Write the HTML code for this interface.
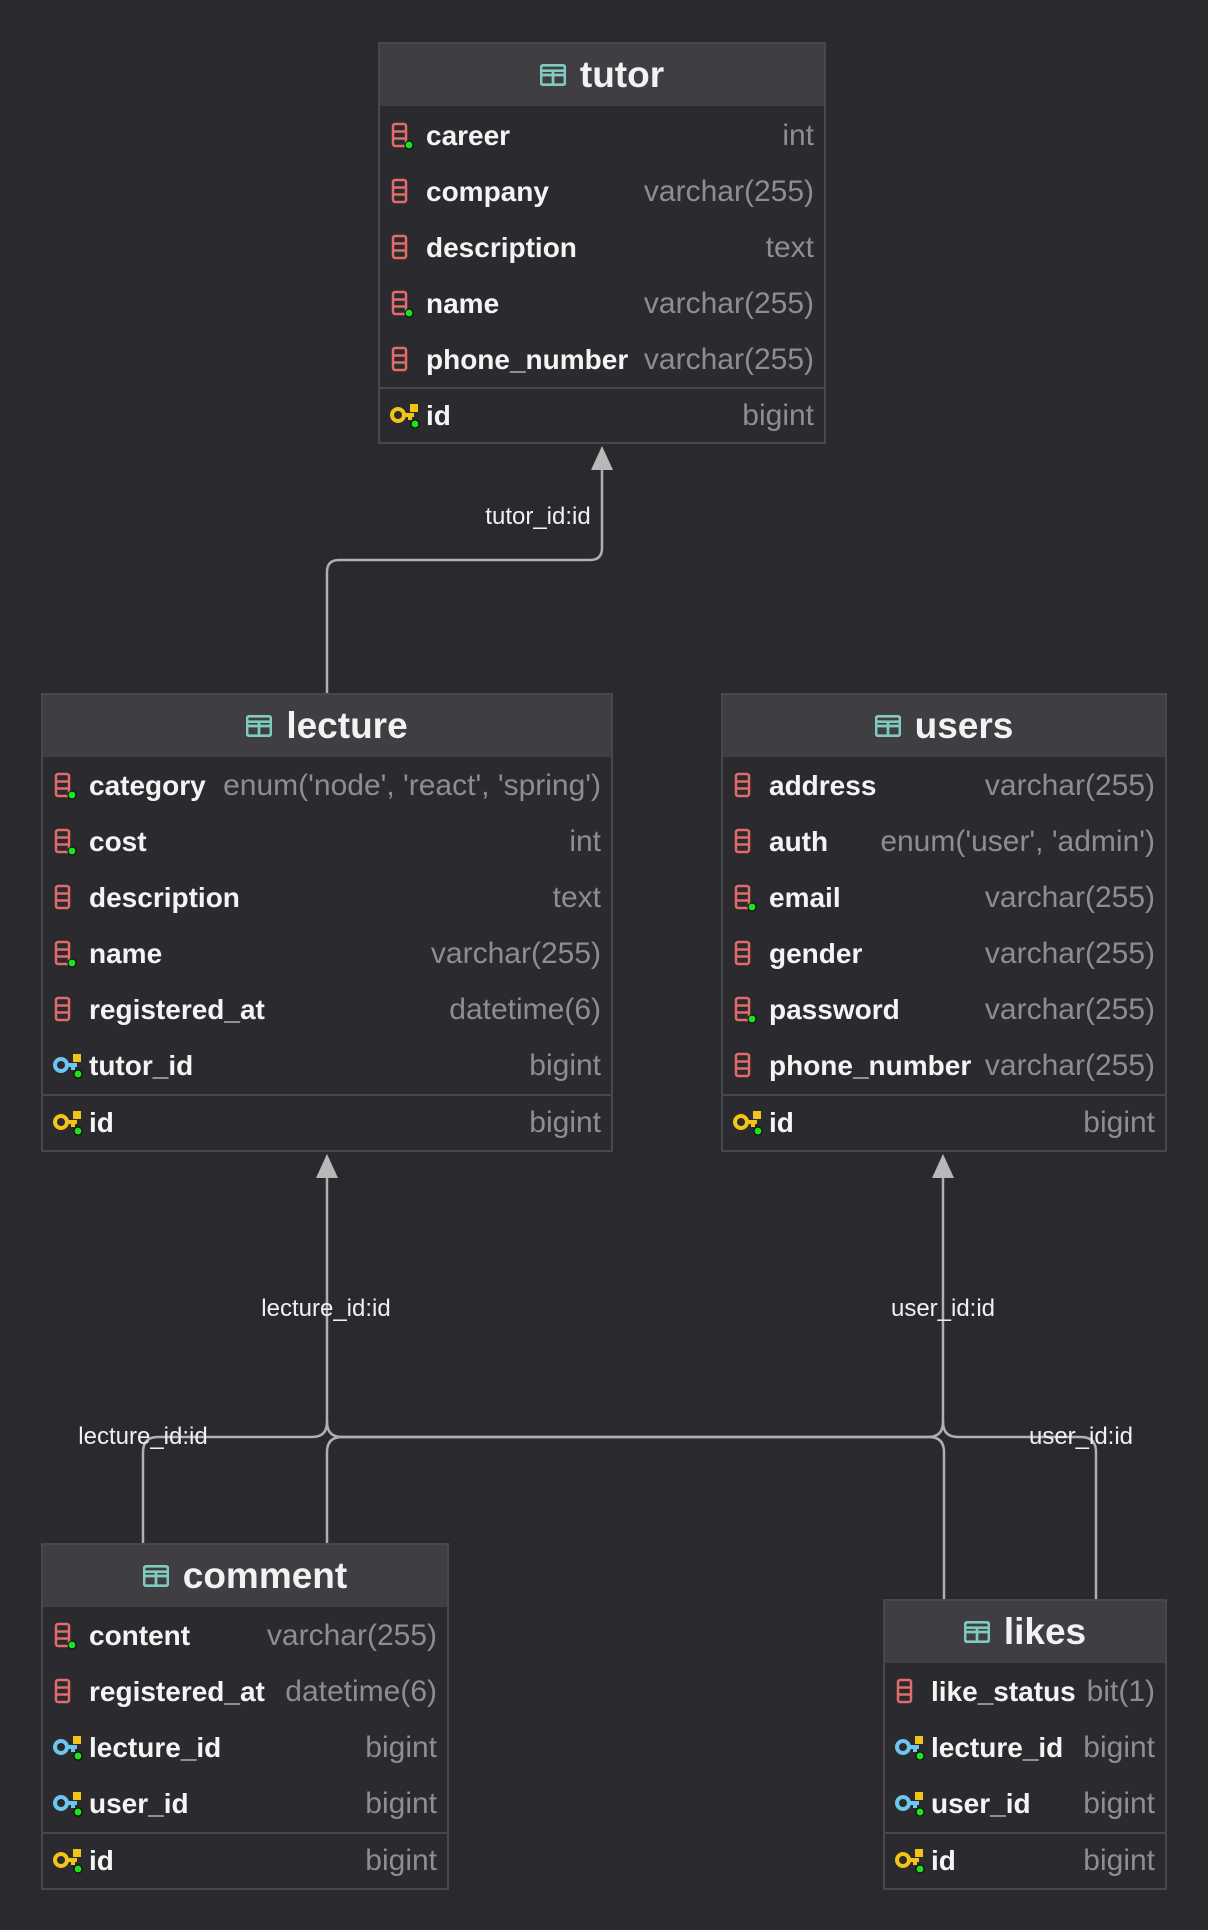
<!DOCTYPE html>
<html><head><meta charset="utf-8"><style>
*{margin:0;padding:0;box-sizing:border-box}
body{width:1208px;height:1930px;background:#2b292d;position:relative;overflow:hidden;font-family:"Liberation Sans",sans-serif}
.box{position:absolute;background:#2b2a2e;border:2px solid #48474b}
.hd{position:absolute;left:0;right:0;top:0;background:#403e42;color:#f2f2f2;font-weight:bold;font-size:37px;display:flex;align-items:center;justify-content:center;gap:14px}
.r{position:absolute;left:0;right:0;height:56px;line-height:56px}
.r .n{position:absolute;left:46px;color:#f4f4f4;font-weight:bold;font-size:28px}
.r .t{position:absolute;right:10px;color:#8e8d90;font-size:30px}
.r svg{position:absolute;left:10px;top:14px}
.sep{position:absolute;left:0;right:0;height:2px;background:#48474b}
.lb{position:absolute;color:#f0f0f0;font-size:24px;transform:translate(-50%,-50%);white-space:nowrap}
</style></head><body>
<svg width="0" height="0" style="position:absolute">
<defs>
<symbol id="tb" viewBox="0 0 24 20"><rect x="1" y="1" width="22" height="18" rx="2" fill="none" stroke="#7fcbc0" stroke-width="2.5"/><path d="M1 10H23M12 6V19M1 6H23" stroke="#7fcbc0" stroke-width="2.5"/></symbol>
<symbol id="col" viewBox="0 0 30 28"><rect x="3" y="2" width="13" height="22" rx="2" fill="none" stroke="#e06c6c" stroke-width="2.5"/><path d="M3 9.5H16M3 16.5H16" stroke="#e06c6c" stroke-width="2.5"/></symbol>
<symbol id="coln" viewBox="0 0 30 28"><rect x="3" y="2" width="13" height="22" rx="2" fill="none" stroke="#e06c6c" stroke-width="2.5"/><path d="M3 9.5H16M3 16.5H16" stroke="#e06c6c" stroke-width="2.5"/><circle cx="19" cy="23" r="4" fill="#1ee01e" stroke="#000" stroke-width="1"/></symbol>
<symbol id="pk" viewBox="0 0 30 28"><circle cx="8" cy="13" r="6" fill="none" stroke="#f2c417" stroke-width="4"/><path d="M13 13H24M20 13V18" stroke="#f2c417" stroke-width="4"/><rect x="20" y="2" width="8" height="8" fill="#f2c417"/><circle cx="25" cy="22" r="4" fill="#1ee01e" stroke="#000" stroke-width="1"/></symbol>
<symbol id="fk" viewBox="0 0 30 28"><circle cx="8" cy="13" r="6" fill="none" stroke="#6cc6ee" stroke-width="4"/><path d="M13 13H24M20 13V18" stroke="#6cc6ee" stroke-width="4"/><rect x="20" y="2" width="8" height="8" fill="#f2c417"/><circle cx="25" cy="22" r="4" fill="#1ee01e" stroke="#000" stroke-width="1"/></symbol>
</defs></svg>

<svg style="position:absolute;left:0;top:0" width="1208" height="1930">
<g fill="none" stroke="#b0b0b0" stroke-width="2.5">
<path d="M327 693V572Q327 560 339 560H590Q602 560 602 548V466"/>
<path d="M327 1176V1422"/>
<path d="M943 1176V1422"/>
<path d="M143 1543V1452Q143 1437 158 1437H312Q327 1437 327 1422"/>
<path d="M327 1543V1452Q327 1437 342 1437H928Q943 1437 943 1422"/>
<path d="M944 1600V1452Q944 1437 929 1437H342Q327 1437 327 1422"/>
<path d="M1096 1600V1452Q1096 1437 1081 1437H958Q943 1437 943 1422"/>
</g>
<g fill="#b8b8b8">
<polygon points="602,446 591,470 613,470"/>
<polygon points="327,1154 316,1178 338,1178"/>
<polygon points="943,1154 932,1178 954,1178"/>
</g>
</svg>
<div class="lb" style="left:538px;top:517px">tutor_id:id</div>
<div class="lb" style="left:326px;top:1309px">lecture_id:id</div>
<div class="lb" style="left:943px;top:1309px">user_id:id</div>
<div class="lb" style="left:143px;top:1437px">lecture_id:id</div>
<div class="lb" style="left:1081px;top:1437px">user_id:id</div>

<!-- tutor -->
<div class="box" style="left:378px;top:42px;width:448px;height:402px">
<div class="hd" style="height:62px"><svg width="26" height="22"><use href="#tb"/></svg>tutor</div>
<div class="r" style="top:64px"><svg width="30" height="28"><use href="#coln"/></svg><span class="n">career</span><span class="t">int</span></div>
<div class="r" style="top:120px"><svg width="30" height="28"><use href="#col"/></svg><span class="n">company</span><span class="t">varchar(255)</span></div>
<div class="r" style="top:176px"><svg width="30" height="28"><use href="#col"/></svg><span class="n">description</span><span class="t">text</span></div>
<div class="r" style="top:232px"><svg width="30" height="28"><use href="#coln"/></svg><span class="n">name</span><span class="t">varchar(255)</span></div>
<div class="r" style="top:288px"><svg width="30" height="28"><use href="#col"/></svg><span class="n">phone_number</span><span class="t">varchar(255)</span></div>
<div class="sep" style="top:343px"></div>
<div class="r" style="top:344px"><svg width="30" height="28"><use href="#pk"/></svg><span class="n">id</span><span class="t">bigint</span></div>
</div>

<!-- lecture -->
<div class="box" style="left:41px;top:693px;width:572px;height:459px">
<div class="hd" style="height:62px"><svg width="26" height="22"><use href="#tb"/></svg>lecture</div>
<div class="r" style="top:63px"><svg width="30" height="28"><use href="#coln"/></svg><span class="n">category</span><span class="t">enum('node', 'react', 'spring')</span></div>
<div class="r" style="top:119px"><svg width="30" height="28"><use href="#coln"/></svg><span class="n">cost</span><span class="t">int</span></div>
<div class="r" style="top:175px"><svg width="30" height="28"><use href="#col"/></svg><span class="n">description</span><span class="t">text</span></div>
<div class="r" style="top:231px"><svg width="30" height="28"><use href="#coln"/></svg><span class="n">name</span><span class="t">varchar(255)</span></div>
<div class="r" style="top:287px"><svg width="30" height="28"><use href="#col"/></svg><span class="n">registered_at</span><span class="t">datetime(6)</span></div>
<div class="r" style="top:343px"><svg width="30" height="28"><use href="#fk"/></svg><span class="n">tutor_id</span><span class="t">bigint</span></div>
<div class="sep" style="top:399px"></div>
<div class="r" style="top:400px"><svg width="30" height="28"><use href="#pk"/></svg><span class="n">id</span><span class="t">bigint</span></div>
</div>

<!-- users -->
<div class="box" style="left:721px;top:693px;width:446px;height:459px">
<div class="hd" style="height:62px"><svg width="26" height="22"><use href="#tb"/></svg>users</div>
<div class="r" style="top:63px"><svg width="30" height="28"><use href="#col"/></svg><span class="n">address</span><span class="t">varchar(255)</span></div>
<div class="r" style="top:119px"><svg width="30" height="28"><use href="#col"/></svg><span class="n">auth</span><span class="t">enum('user', 'admin')</span></div>
<div class="r" style="top:175px"><svg width="30" height="28"><use href="#coln"/></svg><span class="n">email</span><span class="t">varchar(255)</span></div>
<div class="r" style="top:231px"><svg width="30" height="28"><use href="#col"/></svg><span class="n">gender</span><span class="t">varchar(255)</span></div>
<div class="r" style="top:287px"><svg width="30" height="28"><use href="#coln"/></svg><span class="n">password</span><span class="t">varchar(255)</span></div>
<div class="r" style="top:343px"><svg width="30" height="28"><use href="#col"/></svg><span class="n">phone_number</span><span class="t">varchar(255)</span></div>
<div class="sep" style="top:399px"></div>
<div class="r" style="top:400px"><svg width="30" height="28"><use href="#pk"/></svg><span class="n">id</span><span class="t">bigint</span></div>
</div>

<!-- comment -->
<div class="box" style="left:41px;top:1543px;width:408px;height:347px">
<div class="hd" style="height:62px"><svg width="26" height="22"><use href="#tb"/></svg>comment</div>
<div class="r" style="top:63px"><svg width="30" height="28"><use href="#coln"/></svg><span class="n">content</span><span class="t">varchar(255)</span></div>
<div class="r" style="top:119px"><svg width="30" height="28"><use href="#col"/></svg><span class="n">registered_at</span><span class="t">datetime(6)</span></div>
<div class="r" style="top:175px"><svg width="30" height="28"><use href="#fk"/></svg><span class="n">lecture_id</span><span class="t">bigint</span></div>
<div class="r" style="top:231px"><svg width="30" height="28"><use href="#fk"/></svg><span class="n">user_id</span><span class="t">bigint</span></div>
<div class="sep" style="top:287px"></div>
<div class="r" style="top:288px"><svg width="30" height="28"><use href="#pk"/></svg><span class="n">id</span><span class="t">bigint</span></div>
</div>

<!-- likes -->
<div class="box" style="left:883px;top:1599px;width:284px;height:291px">
<div class="hd" style="height:62px"><svg width="26" height="22"><use href="#tb"/></svg>likes</div>
<div class="r" style="top:63px"><svg width="30" height="28"><use href="#col"/></svg><span class="n">like_status</span><span class="t">bit(1)</span></div>
<div class="r" style="top:119px"><svg width="30" height="28"><use href="#fk"/></svg><span class="n">lecture_id</span><span class="t">bigint</span></div>
<div class="r" style="top:175px"><svg width="30" height="28"><use href="#fk"/></svg><span class="n">user_id</span><span class="t">bigint</span></div>
<div class="sep" style="top:231px"></div>
<div class="r" style="top:232px"><svg width="30" height="28"><use href="#pk"/></svg><span class="n">id</span><span class="t">bigint</span></div>
</div>
</body></html>
